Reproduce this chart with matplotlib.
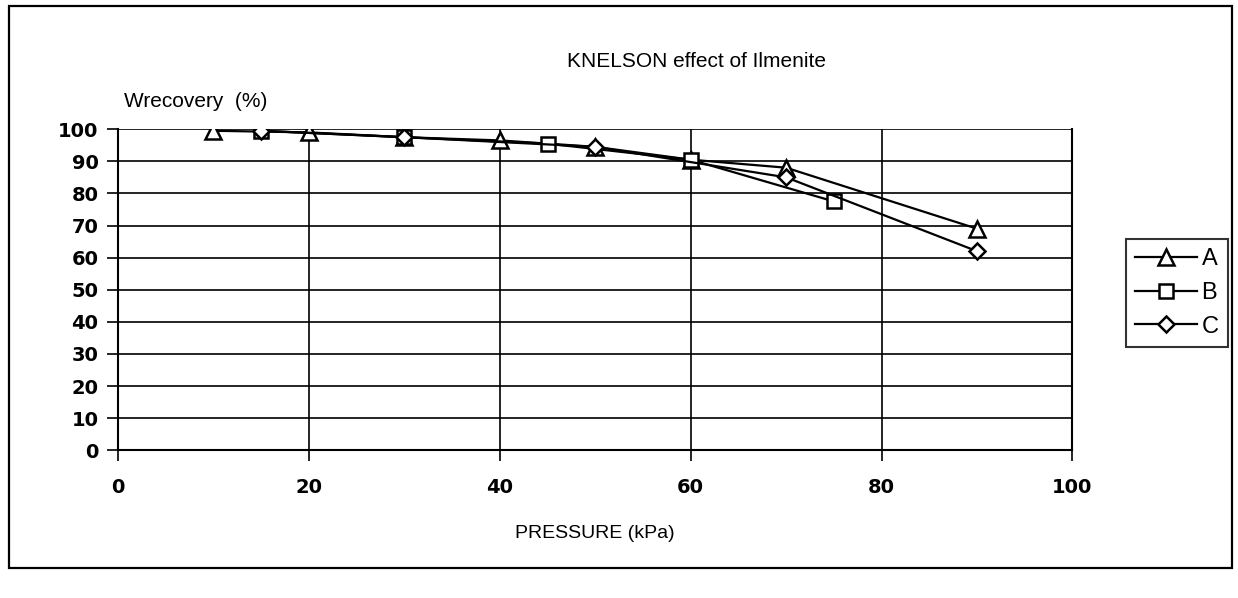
import matplotlib.pyplot as plt
from matplotlib.patches import Rectangle

# series
pressA = [10, 20, 30, 40, 50, 60, 70, 90]
recA = [99.5, 99, 97.5, 96.5, 94.5, 90.5, 88, 69]
pressB = [15, 30, 45, 60, 75]
recB = [99.5, 97.5, 95.5, 90.5, 77.5]
pressC = [15, 30, 50, 70, 90]
recC = [99.5, 97.5, 94.5, 85, 62]

xticks = [0, 20, 40, 60, 80, 100]
yticks = list(range(0, 101, 10))

plt.rcParams['font.family'] = ['Liberation Sans', 'DejaVu Sans']

fig = plt.figure(figsize=(12.38, 5.98), dpi=100)
ax = fig.add_axes([0.0953, 0.247, 0.771, 0.537])

# outer frame of the scanned figure
fig.patches.append(Rectangle((0.007, 0.05), 0.988, 0.94, transform=fig.transFigure,
                             fill=False, lw=1.6, color='black'))

style = dict(color='black', lw=1.6, mfc='white', mec='black', mew=1.8)
ax.plot(pressA, recA, marker='^', ms=11, label='A', **style)
ax.plot(pressB, recB, marker='s', ms=10, label='B', **style)
ax.plot(pressC, recC, marker='D', ms=8, label='C', **style)

ax.set_xlim(0, 100)
ax.set_ylim(0, 100)
ax.set_xticks(xticks)
ax.set_yticks(yticks)
tickfont = dict(fontsize=14, fontweight='bold', family='DejaVu Sans')
ax.set_xticklabels([str(v) for v in xticks], **tickfont)
ax.set_yticklabels([str(v) for v in yticks], **tickfont)
ax.tick_params(axis='both', direction='out', length=8, width=1.2, color='black')
ax.tick_params(axis='x', pad=12)
ax.tick_params(axis='y', pad=6)
ax.grid(True, color='black', lw=1.2)
ax.spines['top'].set_visible(False)
for s in ['left', 'bottom', 'right']:
    ax.spines[s].set_linewidth(1.5)

ax.set_xlabel('PRESSURE (kPa)', fontsize=14, labelpad=20)
fig.text(0.563, 0.897, 'KNELSON effect of Ilmenite', ha='center', va='center', fontsize=15)
fig.text(0.1, 0.83, 'Wrecovery  (%)', ha='left', va='center', fontsize=15)

leg = ax.legend(loc='center left', bbox_to_anchor=(1.056, 0.49), frameon=True, fancybox=False,
                edgecolor='black', fontsize=17, handlelength=2.6, handletextpad=0.2,
                borderpad=0.4, labelspacing=0.5, borderaxespad=0)
leg.get_frame().set_linewidth(1.5)

fig.savefig('out.png', dpi=100)
